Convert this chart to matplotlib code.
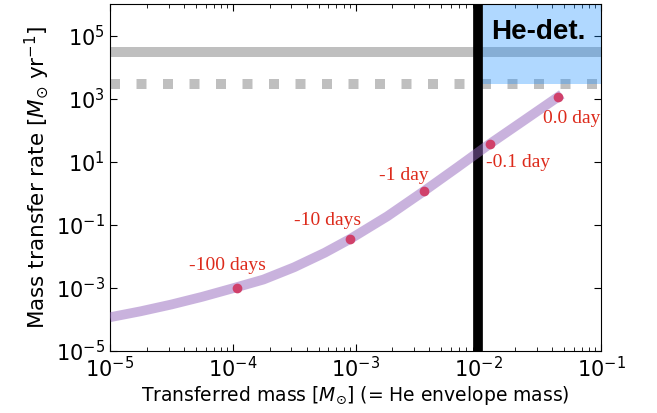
import numpy as np
import matplotlib
matplotlib.use("Agg")
import matplotlib.pyplot as plt
from matplotlib.ticker import FixedLocator, NullLocator, LogLocator

# Curve: mass transfer rate vs transferred mass
curve_mass = [1.0e-5, 1.778e-5, 3.162e-5, 5.623e-5, 1.0e-4, 1.778e-4, 3.162e-4,
              5.623e-4, 9.12e-4, 1.82e-3, 3.63e-3, 6.76e-3, 1.247e-2, 2.40e-2,
              4.49e-2, 4.79e-2]
curve_rate = [1.175e-4, 1.816e-4, 2.979e-4, 5.21e-4, 9.70e-4, 1.841e-3, 4.508e-3,
              1.306e-2, 3.63e-2, 0.187, 1.186, 6.64, 37.2, 214.0,
              1148.0, 1365.0]

# Epoch markers
mark_mass = [1.08e-4, 9.1e-4, 3.6e-3, 1.25e-2, 4.49e-2]
mark_rate = [1.0e-3, 3.6e-2, 1.19, 37.2, 1148.0]
mark_labels = ["-100 days", "-10 days", "-1 day", "-0.1 day", "0.0 day"]
label_mass = [9.1e-5, 5.97e-4, 2.46e-3, 2.11e-2, 5.75e-2]
label_rate = [5.2e-3, 0.142, 3.6, 9.6, 228.0]

# Horizontal reference levels
solid_level = 3.0e4
dotted_level = 3.0e3
he_env_mass = 1.0e-2

fig = plt.figure(figsize=(6.57, 4.13), dpi=100)
ax = fig.add_axes([110/657, 62/413, 491/657, 347/413])

ax.set_xscale("log")
ax.set_yscale("log")
ax.set_xlim(1e-5, 1e-1)
ax.set_ylim(1e-5, 1e6)

ax.axhline(solid_level, color="gray", alpha=0.5, lw=7.2, zorder=1)
ax.axhline(dotted_level, color="gray", alpha=0.5, lw=7.2, ls=":",
           dash_capstyle="butt", zorder=1)

ax.fill_between([he_env_mass, 1e-1], dotted_level, 1e6, color="dodgerblue",
                alpha=0.35, lw=0, zorder=2)
ax.axvline(he_env_mass, color="black", lw=7, zorder=3)

ax.plot(curve_mass, curve_rate, color="tab:purple", alpha=0.5, lw=7,
        solid_capstyle="butt", solid_joinstyle="round", zorder=4)
ax.plot(mark_mass, mark_rate, "o", color="#d0406a", ms=7, mec="none", zorder=5)

for lx, ly, t in zip(label_mass, label_rate, mark_labels):
    ax.text(lx, ly, t, color="#dd2a1b", fontsize=14, family="Liberation Serif",
            ha="center", va="center", zorder=6)

ax.text(10**-1.513, 10**5.10, "He-det.", fontsize=20, fontweight="bold",
        family="Liberation Sans", ha="center", va="center", zorder=6)

ax.yaxis.set_major_locator(FixedLocator([1e-5, 1e-3, 1e-1, 1e1, 1e3, 1e5]))
ax.yaxis.set_minor_locator(NullLocator())
ax.xaxis.set_major_locator(FixedLocator([1e-5, 1e-4, 1e-3, 1e-2, 1e-1]))
ax.xaxis.set_minor_locator(LogLocator(base=10, subs=np.arange(2, 10)))

ax.tick_params(which="both", direction="in", top=True, right=True, labelsize=15)
ax.tick_params(which="major", length=5)
ax.tick_params(which="minor", length=3)

ax.set_xlabel(r"Transferred mass [$M_{\odot}$] (= He envelope mass)", fontsize=13.5,
              labelpad=2)
ax.set_ylabel(r"Mass transfer rate [$M_{\odot}$ yr$^{-1}$]", fontsize=15.5,
              labelpad=4)

fig.savefig("out.png", dpi=100)
